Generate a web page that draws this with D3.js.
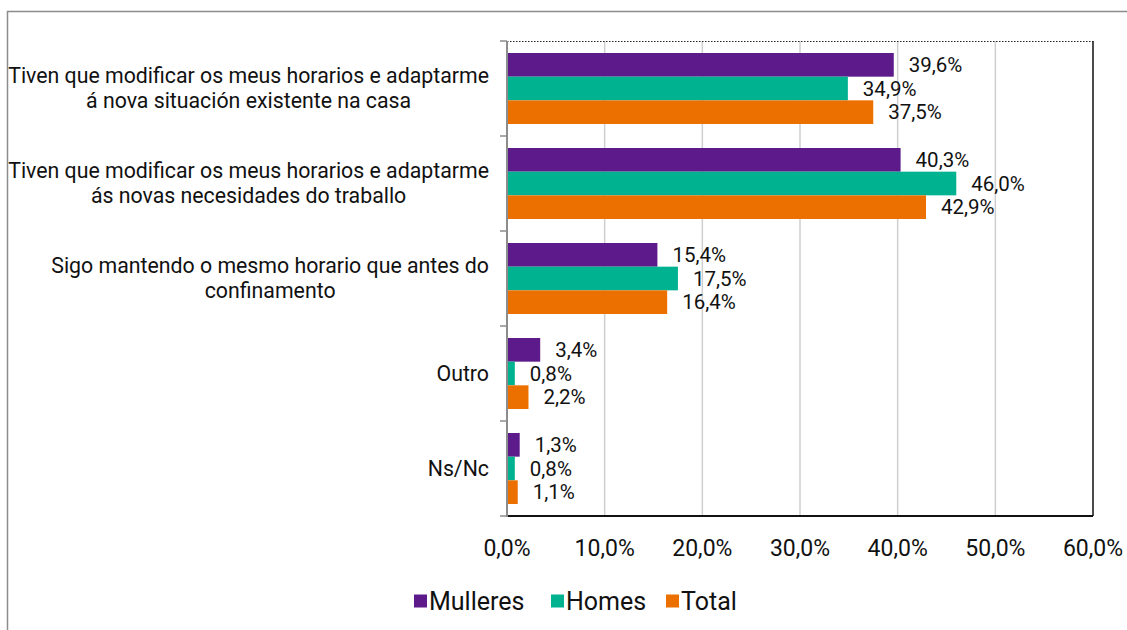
<!DOCTYPE html>
<html lang="gl">
<head>
    <meta charset="UTF-8">
    <title>Horarios</title>
    <script src="https://d3js.org/d3.v7.min.js"></script>
    <style>
        * { margin: 0; padding: 0; }
        body { background: white; font-family: Roboto, "Noto Sans", Arial, sans-serif; }
        svg { display: block; }
        text { fill: #111; }
    </style>
</head>
<body>
<svg id="chart" width="1127" height="630"></svg>
<script>
// categorías (liñas de cada etiqueta)
const categories = [
    ["Tiven que modificar os meus horarios e adaptarme", "á nova situación existente na casa"],
    ["Tiven que modificar os meus horarios e adaptarme", "ás novas necesidades do traballo"],
    ["Sigo mantendo o mesmo horario que antes do", "confinamento"],
    ["Outro"],
    ["Ns/Nc"]
];
const seriesNames = ["Mulleres", "Homes", "Total"];
const mulleres = [39.6, 40.3, 15.4, 3.4, 1.3];
const homes = [34.9, 46.0, 17.5, 0.8, 0.8];
const total = [37.5, 42.9, 16.4, 2.2, 1.1];
const tickValues = [0, 10, 20, 30, 40, 50, 60];
const colors = ["#5c1a8b", "#00b28f", "#ec7000"];

const series = [mulleres, homes, total];
const fmt = v => d3.format(".1f")(v).replace(".", ",") + "%";

const svg = d3.select("#chart");
const plotLeft = 507, plotRight = 1093, plotTop = 41, plotBottom = 516;

// marco exterior
svg.append("rect")
    .attr("x", 7.5).attr("y", 11.5)
    .attr("width", 1140).attr("height", 640)
    .attr("fill", "none").attr("stroke", "#8c8c8c").attr("stroke-width", 1.5);

const x = d3.scaleLinear().domain([0, 60]).range([plotLeft, plotRight]);
const y = d3.scaleBand().domain(d3.range(categories.length)).range([plotTop, plotBottom]);
const ySub = d3.scaleBand().domain(d3.range(series.length)).range([12, y.bandwidth() - 12]);

// grella
svg.append("g").selectAll("line")
    .data(tickValues.slice(1, -1))
    .join("line")
    .attr("x1", d => x(d)).attr("x2", d => x(d))
    .attr("y1", plotTop).attr("y2", plotBottom)
    .attr("stroke", "#cfcfcf").attr("stroke-width", 1.5);

// barras
series.forEach((vals, si) => {
    svg.append("g").selectAll("rect")
        .data(vals)
        .join("rect")
        .attr("x", x(0))
        .attr("y", (d, i) => y(i) + ySub(si))
        .attr("width", d => x(d) - x(0))
        .attr("height", ySub.bandwidth())
        .attr("fill", colors[si]);

    svg.append("g").selectAll("text")
        .data(vals)
        .join("text")
        .attr("x", d => x(d) + 15)
        .attr("y", (d, i) => y(i) + ySub(si) + ySub.bandwidth() / 2)
        .attr("dy", "0.35em")
        .style("font-size", "20.5px")
        .text(d => fmt(d));
});

// bordos do área
svg.append("line").attr("x1", plotLeft).attr("x2", plotRight).attr("y1", plotTop + 0.5).attr("y2", plotTop + 0.5)
    .attr("stroke", "#222").attr("stroke-dasharray", "1.5,1.5");
svg.append("line").attr("x1", plotRight).attr("x2", plotRight).attr("y1", plotTop).attr("y2", plotBottom)
    .attr("stroke", "#111").attr("stroke-width", 1.5);
svg.append("line").attr("x1", plotLeft).attr("x2", plotRight).attr("y1", plotBottom).attr("y2", plotBottom)
    .attr("stroke", "#111").attr("stroke-width", 2);

// eixo vertical con marcas entre categorías
svg.append("line").attr("x1", plotLeft).attr("x2", plotLeft).attr("y1", plotTop).attr("y2", plotBottom + 1)
    .attr("stroke", "#8c8c8c").attr("stroke-width", 2);
svg.append("g").selectAll("line")
    .data(d3.range(categories.length + 1))
    .join("line")
    .attr("x1", plotLeft - 7).attr("x2", plotLeft)
    .attr("y1", d => d < categories.length ? y(d) : plotBottom)
    .attr("y2", d => d < categories.length ? y(d) : plotBottom)
    .attr("stroke", "#8c8c8c").attr("stroke-width", 1.5);

// etiquetas das categorías
const labelRight = 489;
categories.forEach((lines, i) => {
    const g = svg.append("g");
    const texts = g.selectAll("text")
        .data(lines)
        .join("text")
        .attr("text-anchor", "middle")
        .style("font-size", "21.3px")
        .attr("y", (d, k) => y(i) + y.bandwidth() / 2 + (k - (lines.length - 1) / 2) * 25)
        .attr("dy", "0.35em")
        .text(d => d);
    let maxW = 0;
    texts.each(function() { maxW = Math.max(maxW, this.getComputedTextLength()); });
    texts.attr("x", labelRight - maxW / 2);
});

// eixo horizontal
svg.append("g").selectAll("text")
    .data(tickValues)
    .join("text")
    .attr("x", d => x(d))
    .attr("y", 548)
    .attr("dy", "0.35em")
    .attr("text-anchor", "middle")
    .style("font-size", "23px")
    .text(d => fmt(d));

// lenda
const legendX = [414, 551, 666];
const legend = svg.append("g").selectAll("g")
    .data(seriesNames)
    .join("g")
    .attr("transform", (d, i) => `translate(${legendX[i]},601)`);
legend.append("rect")
    .attr("x", 0).attr("y", -6.5)
    .attr("width", 13).attr("height", 13)
    .attr("fill", (d, i) => colors[i]);
legend.append("text")
    .attr("x", 15)
    .attr("dy", "0.35em")
    .style("font-size", "25px")
    .text(d => d);
</script>
</body>
</html>
